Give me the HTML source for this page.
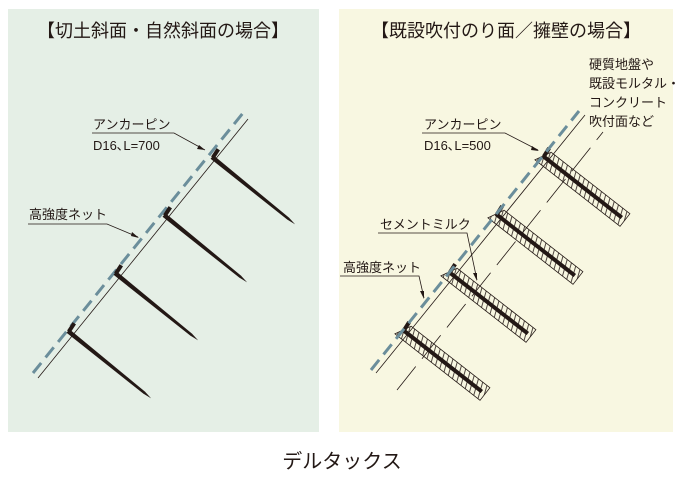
<!DOCTYPE html>
<html><head><meta charset="utf-8"><style>
html,body{margin:0;padding:0;background:#fff;}
svg{display:block;}
text{font-family:"Liberation Sans","Noto Sans CJK JP",sans-serif;fill:#231815;}
</style></head><body>
<svg width="680" height="488" viewBox="0 0 680 488" xmlns="http://www.w3.org/2000/svg">
<defs>
<pattern id="h" width="5" height="5" patternUnits="userSpaceOnUse" patternTransform="rotate(-22)">
<line x1="1" y1="0" x2="1" y2="5" stroke="#231815" stroke-width="0.8"/>
</pattern>
</defs>
<rect x="8" y="9" width="311" height="423" fill="#e5efe6"/>
<rect x="339" y="9" width="334" height="423" fill="#f8f7e1"/>
<text x="163" y="37" font-size="18" text-anchor="middle">【切土斜面・自然斜面の場合】</text>
<text x="506" y="37" font-size="18" text-anchor="middle">【既設吹付のり面／擁壁の場合】</text>
<text x="342" y="468" font-size="20" text-anchor="middle">デルタックス</text>

<!-- LEFT -->
<line x1="38" y1="378" x2="248" y2="119" stroke="#231815" stroke-width="0.8"/>
<line x1="33" y1="373" x2="243" y2="113" stroke="#6b8e9b" stroke-width="3" stroke-dasharray="13,7"/>
<g fill="#231815" stroke="#231815">
<g transform="translate(212,157) rotate(39)"><polygon points="0,-2.3 98,-1.3 107,0 98,1.3 0,2.3" stroke="none"/><line x1="1" y1="0" x2="0" y2="-10" stroke-width="4"/></g>
<g transform="translate(164,215) rotate(39)"><polygon points="0,-2.3 98,-1.3 107,0 98,1.3 0,2.3" stroke="none"/><line x1="1" y1="0" x2="0" y2="-10" stroke-width="4"/></g>
<g transform="translate(115,273) rotate(39)"><polygon points="0,-2.3 98,-1.3 107,0 98,1.3 0,2.3" stroke="none"/><line x1="1" y1="0" x2="0" y2="-10" stroke-width="4"/></g>
<g transform="translate(68,331) rotate(39)"><polygon points="0,-2.3 98,-1.3 107,0 98,1.3 0,2.3" stroke="none"/><line x1="1" y1="0" x2="0" y2="-10" stroke-width="4"/></g>
</g>
<text x="93" y="129" font-size="13">アンカーピン</text>
<text x="93" y="150" font-size="13">D16､L=700</text>
<polyline points="92,133 174,133 205,150" fill="none" stroke="#231815" stroke-width="0.8"/>
<polygon points="205,150 199,145 197,149" fill="#231815"/>
<text x="29" y="219" font-size="13">高強度ネット</text>
<polyline points="28,224 107,224 138,237" fill="none" stroke="#231815" stroke-width="0.8"/>
<polygon points="139,238 132,232 131,236" fill="#231815"/>

<!-- RIGHT -->
<line x1="397" y1="390" x2="603" y2="132" stroke="#231815" stroke-width="0.8" stroke-dasharray="30,10"/>
<g stroke="#231815">
<g transform="translate(543,156) rotate(38)"><polygon points="4,-8 104,-8 104,8 -4,8" fill="url(#h)" stroke-width="0.8"/><line x1="0" y1="0" x2="100" y2="0" stroke-width="4"/><line x1="1" y1="0" x2="0" y2="-10" stroke-width="4"/></g>
<g transform="translate(496,214) rotate(38)"><polygon points="4,-8 104,-8 104,8 -4,8" fill="url(#h)" stroke-width="0.8"/><line x1="0" y1="0" x2="100" y2="0" stroke-width="4"/><line x1="1" y1="0" x2="0" y2="-10" stroke-width="4"/></g>
<g transform="translate(449,272) rotate(38)"><polygon points="4,-8 104,-8 104,8 -4,8" fill="url(#h)" stroke-width="0.8"/><line x1="0" y1="0" x2="100" y2="0" stroke-width="4"/><line x1="1" y1="0" x2="0" y2="-10" stroke-width="4"/></g>
<g transform="translate(403,330) rotate(38)"><polygon points="4,-8 104,-8 104,8 -4,8" fill="url(#h)" stroke-width="0.8"/><line x1="0" y1="0" x2="100" y2="0" stroke-width="4"/><line x1="1" y1="0" x2="0" y2="-10" stroke-width="4"/></g>
</g>
<line x1="376" y1="373" x2="585" y2="115" stroke="#231815" stroke-width="0.8"/>
<line x1="371" y1="370" x2="579" y2="111" stroke="#6b8e9b" stroke-width="3" stroke-dasharray="13,7"/>
<text x="589" y="69" font-size="13">硬質地盤や</text>
<text x="589" y="88" font-size="13">既設モルタル・</text>
<text x="589" y="107" font-size="13">コンクリート</text>
<text x="589" y="126" font-size="13">吹付面など</text>
<text x="424" y="129" font-size="13">アンカーピン</text>
<text x="424" y="150" font-size="13">D16､L=500</text>
<polyline points="422,133 505,133 538,150" fill="none" stroke="#231815" stroke-width="0.8"/>
<polygon points="539,151 532,146 531,150" fill="#231815"/>
<text x="380" y="229" font-size="13">セメントミルク</text>
<polyline points="378,233 467,233 477,280" fill="none" stroke="#231815" stroke-width="0.8"/>
<polygon points="477,281 473,273 477,273" fill="#231815"/>
<text x="343" y="272" font-size="13">高強度ネット</text>
<polyline points="340,276 419,276 424,298" fill="none" stroke="#231815" stroke-width="0.8"/>
<polygon points="424,299 420,291 424,291" fill="#231815"/>
</svg>
</body></html>
